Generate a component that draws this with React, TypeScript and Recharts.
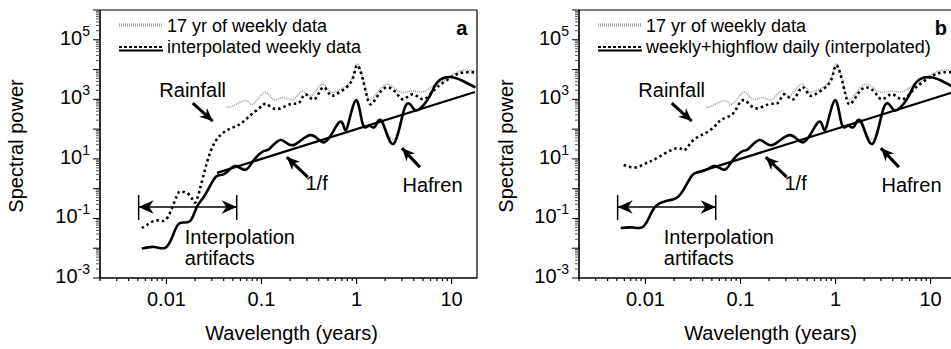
import { LineChart, Line, XAxis, YAxis, ReferenceLine, ReferenceDot, ReferenceArea, Legend } from "recharts"

const FONT = "'Liberation Sans', Arial, Helvetica, sans-serif"

// axes
const X_DOMAIN = [0.002, 18.5]
const Y_DOMAIN = [0.001, 1000000]
const xMajorTicks = [0.01, 0.1, 1, 10]
const xMinorTicks = [
  0.002, 0.003, 0.004, 0.005, 0.006, 0.007, 0.008, 0.009,
  0.02, 0.03, 0.04, 0.05, 0.06, 0.07, 0.08, 0.09,
  0.2, 0.3, 0.4, 0.5, 0.6, 0.7, 0.8, 0.9,
  2, 3, 4, 5, 6, 7, 8, 9,
]
const yDecades = [0.001, 0.01, 0.1, 1, 10, 100, 1000, 10000, 100000, 1000000]
const yLabelExponents = [-3, -1, 1, 3, 5]
const yMinorFactors = [2, 3, 4, 5, 6, 7, 8, 9]

// 17 yr of weekly data (same in both panels)
const rainWeekly_w = [0.043, 0.05, 0.069, 0.082, 0.108, 0.133, 0.169, 0.216, 0.27, 0.33, 0.43, 0.52, 0.61, 0.78, 0.92, 1.0, 1.11, 1.27, 1.43, 1.76, 2.14, 2.6, 3.1, 3.9, 5.0, 6.4, 8.2, 10.5, 13.2, 17.8]
const rainWeekly_p = [560, 600, 900, 690, 1700, 1000, 1150, 1000, 1900, 1300, 3200, 1900, 1900, 2800, 6200, 15000, 9100, 1700, 1000, 2200, 3200, 2200, 1700, 1900, 1800, 2800, 4200, 7100, 9500, 9100]
const hafrenWeekly_w = [0.034, 0.0465, 0.0545, 0.068, 0.0816, 0.104, 0.122, 0.16, 0.215, 0.33, 0.46, 0.62, 0.72, 0.8, 0.985, 1.16, 1.35, 1.56, 1.85, 2.45, 3.2, 3.9, 4.6, 5.9, 7.1, 9.6, 13, 17.8]
const hafrenWeekly_p = [3.3, 4.8, 6.2, 4.8, 8, 17, 24, 45, 31, 66, 40, 130, 150, 120, 880, 160, 135, 110, 190, 45, 480, 540, 480, 1250, 3600, 5400, 4300, 2600]

// panel a: interpolated weekly data
const rainA_w = [0.0055, 0.0062, 0.0072, 0.0085, 0.0103, 0.0128, 0.0145, 0.0176, 0.0199, 0.0224, 0.0265, 0.0323, 0.043, 0.059, 0.075, 0.096, 0.113, 0.144, 0.2, 0.25, 0.29, 0.36, 0.44, 0.52, 0.61, 0.78, 0.92, 1.0, 1.11, 1.27, 1.43, 1.76, 2.14, 2.6, 3.1, 3.9, 5.0, 6.4, 8.2, 10.5, 13.2, 17.8]
const rainA_p = [0.048, 0.06, 0.08, 0.085, 0.11, 0.55, 0.8, 0.6, 0.34, 0.9, 7, 36, 90, 145, 277, 525, 690, 470, 690, 780, 1480, 1000, 2500, 1480, 1480, 2500, 5400, 13500, 8000, 1480, 690, 1700, 2500, 1700, 1000, 1480, 1000, 1900, 3700, 6200, 8000, 8000]
const hafrenA_w = [0.0055, 0.0075, 0.0098, 0.0118, 0.0138, 0.0176, 0.0207, 0.0243, 0.0286, 0.0336, 0.0395, 0.0465, 0.0545, 0.068, 0.0816, 0.104, 0.122, 0.16, 0.215, 0.33, 0.46, 0.62, 0.72, 0.8, 0.985, 1.16, 1.35, 1.56, 1.85, 2.45, 3.2, 3.9, 4.6, 5.9, 7.1, 9.6, 13, 17.8]
const hafrenA_p = [0.0098, 0.011, 0.0105, 0.029, 0.07, 0.08, 0.23, 0.49, 1.2, 2.6, 3, 4.5, 5.7, 4.3, 8.5, 18, 22, 43, 29, 63, 36, 135, 145, 117, 940, 150, 130, 120, 180, 32, 500, 520, 470, 1300, 3800, 5600, 4200, 2500]

// panel b: weekly + highflow daily (interpolated)
const rainB_w = [0.0059, 0.0079, 0.0102, 0.0121, 0.0162, 0.0222, 0.026, 0.032, 0.043, 0.055, 0.064, 0.082, 0.096, 0.113, 0.144, 0.2, 0.25, 0.29, 0.36, 0.44, 0.52, 0.61, 0.78, 0.92, 1.0, 1.11, 1.27, 1.43, 1.76, 2.14, 2.6, 3.1, 3.9, 5.0, 6.4, 8.2, 10.5, 13.2, 17.8]
const rainB_p = [6.2, 5.2, 7.2, 9.2, 15.5, 23, 20, 43, 74, 135, 214, 316, 690, 900, 500, 690, 780, 1480, 1000, 2500, 1480, 1480, 2500, 5400, 13500, 8000, 1480, 690, 1700, 2500, 1700, 1000, 1480, 1000, 1900, 3700, 6200, 8000, 8000]
const hafrenB_w = [0.0055, 0.0072, 0.0092, 0.0108, 0.0127, 0.0162, 0.0215, 0.026, 0.031, 0.036, 0.045, 0.0545, 0.068, 0.0816, 0.104, 0.122, 0.16, 0.215, 0.33, 0.46, 0.62, 0.72, 0.8, 0.985, 1.16, 1.35, 1.56, 1.85, 2.45, 3.2, 3.9, 4.6, 5.9, 7.1, 9.6, 13, 17.8]
const hafrenB_p = [0.048, 0.05, 0.05, 0.1, 0.25, 0.38, 0.5, 1.1, 2.8, 3.6, 4.5, 5.7, 4.3, 8.5, 18, 22, 43, 29, 63, 36, 135, 145, 117, 940, 150, 130, 120, 180, 32, 500, 520, 470, 1300, 3800, 5600, 4200, 2500]

// 1/f reference line
const oneOverF_w = [0.034, 17.6]
const oneOverF_p = [3.4, 1760]

const toPts = (w: number[], p: number[]) => w.map((v, i) => ({ w: v, p: p[i] }))

const xTicks = [...xMinorTicks, ...xMajorTicks].sort((a, b) => a - b)
const yTicks = [
  ...yDecades,
  ...yDecades.slice(0, -1).flatMap((d) => yMinorFactors.map((f) => f * d)),
].sort((a, b) => a - b)

function XTick({ x, y, payload }: any) {
  const major = xMajorTicks.includes(payload.value)
  return (
    <g>
      <line x1={x} x2={x} y1={y} y2={y + (major ? 6 : 3)} stroke="#000" strokeWidth={1.2} />
      {major && (
        <text x={x} y={y + 28} textAnchor="middle" fontSize={20} fontFamily={FONT} fill="#000">
          {String(payload.value)}
        </text>
      )}
    </g>
  )
}

function YTick({ x, y, payload }: any) {
  const v = payload.value
  const major = yDecades.includes(v)
  const e = Math.round(Math.log10(v))
  const labelled = major && yLabelExponents.includes(e)
  return (
    <g>
      <line x1={x} x2={x - (major ? 7 : 4)} y1={y} y2={y} stroke={major ? "#000" : "#555"} strokeWidth={1} />
      {labelled && (
        <text x={x - 10} y={y + 5} textAnchor="end" fontSize={20} fontFamily={FONT} fill="#000">
          10<tspan dy={-9} fontSize={14}>{e}</tspan>
        </text>
      )}
    </g>
  )
}

const textShape = (text: string, anchor: string, bold = false) => (p: any) => (
  <text x={p.cx} y={p.cy} textAnchor={anchor} fontSize={20} fontWeight={bold ? "bold" : "normal"} fontFamily={FONT} fill="#000">
    {text}
  </text>
)

const twoLineShape = (a: string, b: string) => (p: any) => (
  <text x={p.cx} y={p.cy} fontSize={20} fontFamily={FONT} fill="#000">
    <tspan x={p.cx}>{a}</tspan>
    <tspan x={p.cx} dy={21}>{b}</tspan>
  </text>
)

const arrowShape = (both: boolean, width: number, head: number) => (p: any) => {
  const { x1, y1, x2, y2 } = p
  const a = Math.atan2(y2 - y1, x2 - x1)
  const tri = (x: number, y: number, ang: number) => {
    const c = Math.cos(ang), s = Math.sin(ang)
    const bx = x - head * c, by = y - head * s
    const nx = x - head * 0.7 * c, ny = y - head * 0.7 * s
    const hw = head * 0.45
    return `${x},${y} ${bx - s * hw},${by + c * hw} ${nx},${ny} ${bx + s * hw},${by - c * hw}`
  }
  return (
    <g>
      <line x1={x1} y1={y1} x2={x2} y2={y2} stroke="#000" strokeWidth={width} />
      <polygon points={tri(x2, y2, a)} fill="#000" />
      {both && <polygon points={tri(x1, y1, a + Math.PI)} fill="#000" />}
    </g>
  )
}

function LegendBox({ label }: { label: string }) {
  return (
    <svg width={360} height={48} style={{ display: "block" }}>
      <line x1={2} x2={45} y1={13} y2={13} stroke="#aaa" strokeWidth={3.5} strokeDasharray="1 1" />
      <text x={50} y={20} fontSize={18} fontFamily={FONT} fill="#000">17 yr of weekly data</text>
      <line x1={2} x2={46} y1={35} y2={35} stroke="#000" strokeWidth={2} strokeDasharray="3 2" />
      <line x1={2} x2={46} y1={38.5} y2={38.5} stroke="#000" strokeWidth={2} />
      <text x={50} y={41} fontSize={18} fontFamily={FONT} fill="#000">{label}</text>
    </svg>
  )
}

interface PanelProps {
  letter: string
  legendLabel: string
  rainW: number[]
  rainP: number[]
  hafW: number[]
  hafP: number[]
  yLabelX: number
}

function Panel({ letter, legendLabel, rainW, rainP, hafW, hafP, yLabelX }: PanelProps) {
  return (
    <LineChart width={480} height={349} margin={{ top: 10, right: 3, bottom: 0, left: 0 }}>
      <XAxis
        dataKey="w"
        type="number"
        scale="log"
        domain={X_DOMAIN}
        allowDataOverflow
        ticks={xTicks}
        interval={0}
        tick={<XTick />}
        tickLine={false}
        tickSize={0}
        tickMargin={0}
        height={71}
        axisLine={{ stroke: "#000", strokeWidth: 1.2 }}
        label={(p: any) => {
          const vb = p.viewBox
          return (
            <text x={vb.x + vb.width / 2 + 3} y={vb.y + 62} textAnchor="middle" fontSize={20} fontFamily={FONT} fill="#000">
              Wavelength (years)
            </text>
          )
        }}
      />
      <YAxis
        dataKey="p"
        type="number"
        scale="log"
        domain={Y_DOMAIN}
        allowDataOverflow
        ticks={yTicks}
        interval={0}
        tick={<YTick />}
        tickLine={false}
        tickSize={0}
        tickMargin={0}
        width={100}
        axisLine={{ stroke: "#000", strokeWidth: 1.2 }}
        label={(p: any) => {
          const vb = p.viewBox
          const x = vb.x + yLabelX
          const y = 146
          return (
            <text x={x} y={y} transform={`rotate(-90, ${x}, ${y})`} textAnchor="middle" fontSize={20} fontFamily={FONT} fill="#000">
              Spectral power
            </text>
          )
        }}
      />
      <ReferenceArea x1={X_DOMAIN[0]} x2={X_DOMAIN[1]} y1={Y_DOMAIN[0]} y2={Y_DOMAIN[1]} fill="none" stroke="#000" strokeWidth={1.2} ifOverflow="visible" />
      <Legend
        layout="horizontal"
        verticalAlign="middle"
        align="center"
        wrapperStyle={{ left: 117, top: 12, width: 360 }}
        content={() => <LegendBox label={legendLabel} />}
      />

      <Line data={toPts(rainWeekly_w, rainWeekly_p)} dataKey="p" type="natural" stroke="#9c9c9c" strokeWidth={1.6} strokeDasharray="1 1" dot={false} isAnimationActive={false} />
      <Line data={toPts(hafrenWeekly_w, hafrenWeekly_p)} dataKey="p" type="natural" stroke="#9c9c9c" strokeWidth={1.6} strokeDasharray="1 1" dot={false} isAnimationActive={false} />
      <Line data={toPts(oneOverF_w, oneOverF_p)} dataKey="p" type="linear" stroke="#000" strokeWidth={2.2} dot={false} isAnimationActive={false} />
      <Line data={toPts(rainW, rainP)} dataKey="p" type="natural" stroke="#000" strokeWidth={2.6} strokeDasharray="2.5 3" dot={false} isAnimationActive={false} />
      <Line data={toPts(hafW, hafP)} dataKey="p" type="natural" stroke="#000" strokeWidth={2.6} dot={false} isAnimationActive={false} />

      {/* annotations */}
      <ReferenceDot x={12.8} y={140000} r={0} ifOverflow="visible" shape={textShape(letter, "middle", true)} />
      <ReferenceDot x={0.0189} y={1170} r={0} ifOverflow="visible" shape={textShape("Rainfall", "middle")} />
      <ReferenceDot x={0.38} y={0.9} r={0} ifOverflow="visible" shape={textShape("1/f", "middle")} />
      <ReferenceDot x={6.3} y={0.77} r={0} ifOverflow="visible" shape={textShape("Hafren", "middle")} />
      <ReferenceDot x={0.0156} y={0.0138} r={0} ifOverflow="visible" shape={twoLineShape("Interpolation", "artifacts")} />
      <ReferenceLine segment={[{ x: 0.0189, y: 740 }, { x: 0.0307, y: 186 }]} ifOverflow="visible" shape={arrowShape(false, 3, 13)} />
      <ReferenceLine segment={[{ x: 0.307, y: 2.45 }, { x: 0.1845, y: 11.5 }]} ifOverflow="visible" shape={arrowShape(false, 3, 13)} />
      <ReferenceLine segment={[{ x: 4.64, y: 5.3 }, { x: 3.0, y: 23 }]} ifOverflow="visible" shape={arrowShape(false, 3, 13)} />
      <ReferenceLine segment={[{ x: 0.0051, y: 0.24 }, { x: 0.0549, y: 0.24 }]} ifOverflow="visible" shape={arrowShape(true, 1.5, 15)} />
      <ReferenceLine segment={[{ x: 0.0051, y: 0.089 }, { x: 0.0051, y: 0.61 }]} ifOverflow="visible" stroke="#000" strokeWidth={1.5} />
      <ReferenceLine segment={[{ x: 0.0549, y: 0.089 }, { x: 0.0549, y: 0.61 }]} ifOverflow="visible" stroke="#000" strokeWidth={1.5} />
    </LineChart>
  )
}

export default function App() {
  return (
    <div style={{ position: "fixed", left: 0, top: 0, width: 951, height: 349, overflow: "hidden", background: "#fff", fontFamily: FONT }}>
      <div style={{ position: "absolute", left: 0, top: 0 }}>
        <Panel letter="a" legendLabel="interpolated weekly data" rainW={rainA_w} rainP={rainA_p} hafW={hafrenA_w} hafP={hafrenA_p} yLabelX={23} />
      </div>
      <div style={{ position: "absolute", left: 479, top: 0 }}>
        <Panel letter="b" legendLabel="weekly+highflow daily (interpolated)" rainW={rainB_w} rainP={rainB_p} hafW={hafrenB_w} hafP={hafrenB_p} yLabelX={34} />
      </div>
    </div>
  )
}
